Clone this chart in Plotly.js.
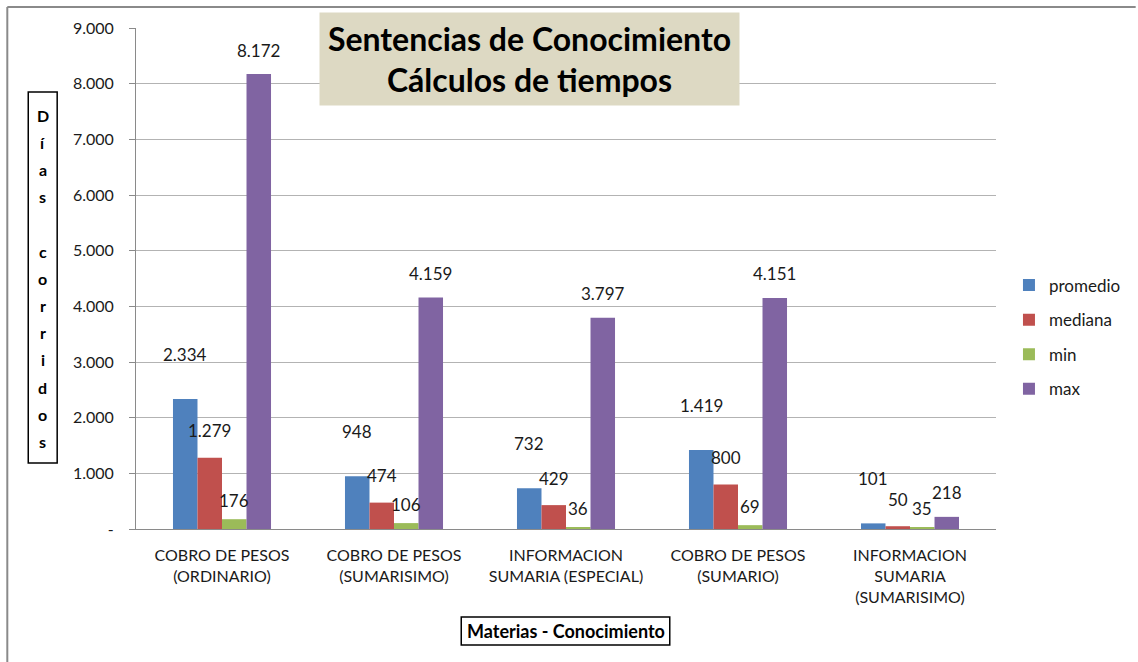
<!DOCTYPE html>
<html>
<head>
<meta charset="utf-8">
<script src="https://cdn.plot.ly/plotly-3.0.1.min.js"></script>
<style>html,body{margin:0;padding:0;background:#fff;}#chart{width:1138px;height:662px;}</style>
</head>
<body>
<div id="chart"></div>
<script>
const categories = [
  'COBRO DE PESOS<br>(ORDINARIO)',
  'COBRO DE PESOS<br>(SUMARISIMO)',
  'INFORMACION<br>SUMARIA (ESPECIAL)',
  'COBRO DE PESOS<br>(SUMARIO)',
  'INFORMACION<br>SUMARIA<br>(SUMARISIMO)'
];
const seriesNames = ['promedio', 'mediana', 'min', 'max'];
const promedio = [2334, 948, 732, 1419, 101];
const mediana = [1279, 474, 429, 800, 50];
const minimo = [176, 106, 36, 69, 35];
const maximo = [8172, 4159, 3797, 4151, 218];
const yTickVals = [0, 1000, 2000, 3000, 4000, 5000, 6000, 7000, 8000, 9000];
const yTickText = ['-', '1.000', '2.000', '3.000', '4.000', '5.000', '6.000', '7.000', '8.000', '9.000'];
const chartTitle = 'Sentencias de Conocimiento<br>Cálculos de tiempos';
const yTitle = 'Días corridos';
const xTitle = 'Materias - Conocimiento';

const colors = ['#4F81BD', '#C0504D', '#9BBB59', '#8064A2'];
const allSeries = [promedio, mediana, minimo, maximo];
const FONT = 'Lato, "Open Sans", sans-serif';

// layout geometry
const W = 1138, H = 662;
const M = {l: 136, r: 140, t: 28, b: 133};
const plotW = W - M.l - M.r, plotH = H - M.t - M.b;
const bargap = 0.43;
const barW = plotW / categories.length * (1 - bargap) / allSeries.length;
const labelLift = [45, 27, 19, 24];
const px = v => (v - M.l) / plotW;
const py = v => (H - M.b - v) / plotH;

function fmt(v) {
  return String(v).replace(/\B(?=(\d{3})+(?!\d))/g, '.');
}

const traces = allSeries.map((vals, i) => ({
  type: 'bar',
  name: seriesNames[i],
  legendgroup: seriesNames[i],
  x: categories,
  y: vals,
  marker: {color: colors[i]},
  hoverinfo: 'x+y+name'
}));

const annotations = [];
allSeries.forEach((vals, i) => {
  vals.forEach((v, j) => {
    annotations.push({
      x: categories[j], y: v, xref: 'x', yref: 'y',
      xanchor: 'center', yanchor: 'middle',
      text: fmt(v), showarrow: false,
      xshift: (i - (allSeries.length - 1) / 2) * barW,
      yshift: labelLift[i],
      font: {family: FONT, size: 17, color: '#1a1a1a'}
    });
  });
});

// chart title box
annotations.push({
  xref: 'paper', yref: 'paper', x: px(530.5), y: py(59),
  xanchor: 'center', yanchor: 'middle',
  text: '<b>' + chartTitle + '</b>', showarrow: false,
  width: 419, height: 92, borderpad: 0,
  bgcolor: '#DDD9C3',
  font: {family: FONT, size: 32, color: '#000'}
});

// vertical stacked y-axis title
Array.from(yTitle).forEach((ch, k) => {
  if (ch === ' ') return;
  annotations.push({
    xref: 'paper', yref: 'paper', x: px(42.5), y: py(115 + 27.2 * k),
    xanchor: 'center', yanchor: 'middle',
    text: '<b>' + ch + '</b>', showarrow: false,
    font: {family: FONT, size: 16, color: '#000'}
  });
});

// x-axis title
annotations.push({
  xref: 'paper', yref: 'paper', x: px(566.5), y: py(631),
  xanchor: 'center', yanchor: 'middle',
  text: '<b>' + xTitle + '</b>', showarrow: false,
  font: {family: FONT, size: 18, color: '#000'}
});

const shapes = [
  {type: 'rect', xref: 'paper', yref: 'paper', x0: px(28), x1: px(57), y0: py(463), y1: py(92),
   line: {color: '#000', width: 1.5}},
  {type: 'rect', xref: 'paper', yref: 'paper', x0: px(462), x1: px(671), y0: py(645), y1: py(617),
   line: {color: '#000', width: 1.5}},
  {type: 'line', xref: 'paper', yref: 'paper', x0: px(7), x1: px(7), y0: py(7), y1: py(662),
   line: {color: '#8a8a8a', width: 2}},
  {type: 'line', xref: 'paper', yref: 'paper', x0: px(7), x1: px(1138), y0: py(7), y1: py(7),
   line: {color: '#8a8a8a', width: 2}}
];

const layout = {
  width: W, height: H,
  margin: M,
  paper_bgcolor: '#fff', plot_bgcolor: '#fff',
  barmode: 'group', bargap: bargap, bargroupgap: 0,
  font: {family: FONT, size: 16, color: '#1a1a1a'},
  showlegend: true,
  legend: {
    x: px(1011), y: py(337), xanchor: 'left', yanchor: 'middle',
    font: {family: FONT, size: 17, color: '#1a1a1a'},
    tracegroupgap: 9.5, bgcolor: 'rgba(0,0,0,0)'
  },
  xaxis: {
    type: 'category',
    showgrid: false, zeroline: false,
    showline: true, linecolor: '#8a8a8a', linewidth: 1,
    ticks: '', ticklabelstandoff: 12,
    tickfont: {family: FONT, size: 16, color: '#1a1a1a'},
    fixedrange: true
  },
  yaxis: {
    range: [0, 9000],
    tickvals: yTickVals, ticktext: yTickText,
    showgrid: true, gridcolor: '#b3b3b3', gridwidth: 1,
    zeroline: false,
    showline: true, linecolor: '#8a8a8a', linewidth: 1,
    ticks: 'outside', ticklen: 6, tickcolor: '#8a8a8a',
    ticklabelstandoff: 12,
    tickfont: {family: FONT, size: 16, color: '#1a1a1a'},
    fixedrange: true
  },
  annotations: annotations,
  shapes: shapes
};

Plotly.newPlot('chart', traces, layout, {displayModeBar: false});
</script>
</body>
</html>
